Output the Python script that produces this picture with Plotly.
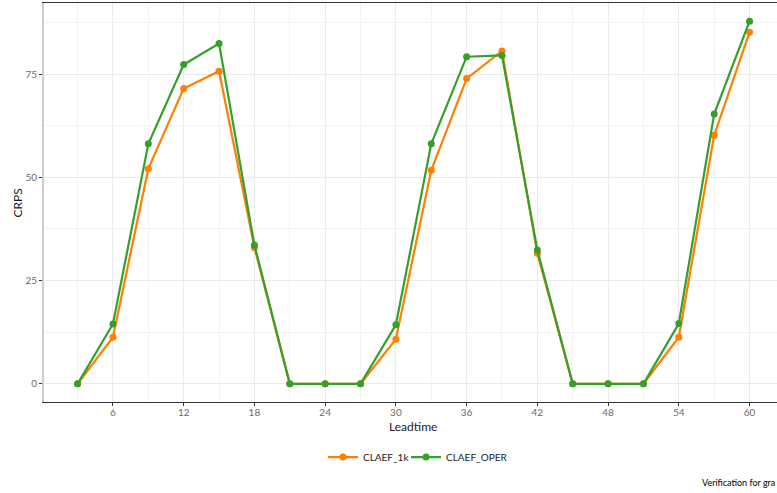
import plotly.graph_objects as go

leadtime = [3, 6, 9, 12, 15, 18, 21, 24, 27, 30, 33, 36, 39, 42, 45, 48, 51, 54, 57, 60]
claef_1k = [0, 11.3, 52.1, 71.5, 75.7, 33.0, 0, 0, 0, 10.8, 51.7, 73.9, 80.6, 31.6, 0, 0, 0, 11.3, 60.2, 85.1]
claef_oper = [0, 14.5, 58.1, 77.3, 82.4, 33.6, 0, 0, 0, 14.3, 58.1, 79.2, 79.5, 32.4, 0, 0, 0, 14.6, 65.3, 87.8]
x_ticks = [6, 12, 18, 24, 30, 36, 42, 48, 54, 60]
y_ticks = [0, 25, 50, 75]

FONT = "Lato"
fig = go.Figure()
fig.add_trace(go.Scatter(x=leadtime, y=claef_1k, name="CLAEF_1k", mode="lines+markers",
                         line=dict(color="#FF7F00", width=2.2), marker=dict(color="#FF7F00", size=7),
                         legend="legend"))
fig.add_trace(go.Scatter(x=leadtime, y=claef_oper, name="CLAEF_OPER", mode="lines+markers",
                         line=dict(color="#33A02C", width=2.2), marker=dict(color="#33A02C", size=7),
                         legend="legend2"))

leg_common = dict(orientation="h", xanchor="left", y=-0.138, yanchor="middle",
                  font=dict(family=FONT, size=10, color="#1a1a1a"), itemwidth=30,
                  bgcolor="rgba(0,0,0,0)")
fig.update_layout(
    width=777, height=493,
    margin=dict(l=44, r=0, t=3, b=91),
    paper_bgcolor="white", plot_bgcolor="white",
    font=dict(family=FONT, color="#000000"),
    showlegend=True,
    legend=dict(x=0.3806, **leg_common),
    legend2=dict(x=0.4939, **leg_common),
    annotations=[
        dict(text="Verification for gra", xref="paper", yref="paper",
             x=0.895, y=-0.203, xanchor="left", yanchor="middle", showarrow=False,
             font=dict(family=FONT, size=9, color="#000000")),
        dict(text="Leadtime", xref="paper", yref="paper",
             x=0.503, y=-0.061, xanchor="center", yanchor="middle", showarrow=False,
             font=dict(family=FONT, size=12, color="#1a1a1a")),
        dict(text="CRPS", xref="paper", yref="paper", textangle=-90,
             x=-0.0355, y=0.5, xanchor="center", yanchor="middle", showarrow=False,
             font=dict(family=FONT, size=12, color="#1a1a1a")),
    ],
)
fig.update_xaxes(
    range=[0.15, 62.33], tickmode="array", tickvals=x_ticks,
    showgrid=True, gridcolor="#EBEBEB", gridwidth=1,
    minor=dict(tick0=3, dtick=6, showgrid=True, gridcolor="#F3F3F3", gridwidth=0.6),
    showline=True, linecolor="#333333", linewidth=1, mirror=True,
    ticks="outside", ticklen=3, tickcolor="#333333",
    tickfont=dict(family=FONT, size=10, color="#6b6b6b"),
    ticklabelstandoff=-2,
    zeroline=False,
)
fig.update_yaxes(
    range=[-4.39, 92.2], tickmode="array", tickvals=y_ticks,
    showgrid=True, gridcolor="#EBEBEB", gridwidth=1,
    minor=dict(tick0=12.5, dtick=25, showgrid=True, gridcolor="#F3F3F3", gridwidth=0.6),
    showline=True, linecolor="#CCCCCC", linewidth=2,
    ticks="outside", ticklen=3, tickcolor="#333333",
    tickfont=dict(family=FONT, size=10, color="#6b6b6b"),
    zeroline=False,
)
fig.write_html("out.html")
